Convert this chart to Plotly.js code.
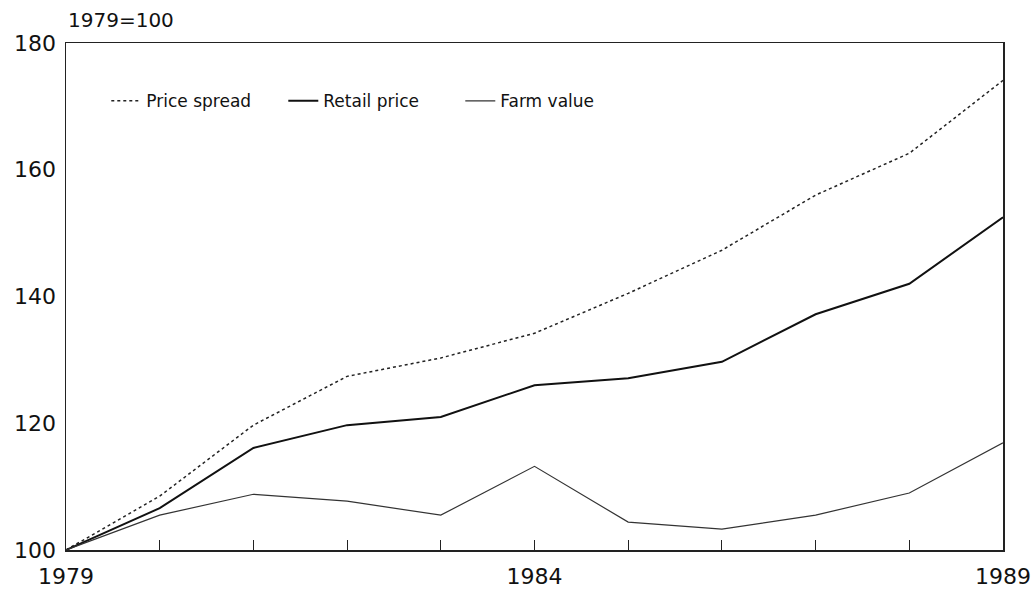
<!DOCTYPE html>
<html>
<head>
<meta charset="utf-8">
<script src="https://cdn.plot.ly/plotly-3.0.1.min.js"></script>
<style>html,body{margin:0;padding:0;background:#fff;}#chart{width:1036px;height:592px;}</style>
</head>
<body>
<div id="chart"></div>
<script>
const years = [1979, 1980, 1981, 1982, 1983, 1984, 1985, 1986, 1987, 1988, 1989];
const priceSpread = [100, 108.5, 119.7, 127.4, 130.3, 134.2, 140.5, 147.3, 156.0, 162.6, 174.1];
const retailPrice = [100, 106.6, 116.1, 119.7, 121.0, 126.0, 127.1, 129.7, 137.2, 142.0, 152.5];
const farmValue = [100, 105.5, 108.8, 107.7, 105.5, 113.2, 104.4, 103.3, 105.5, 109.0, 116.9];
const xTickLabels = ["1979", "", "", "", "", "1984", "", "", "", "", "1989"];
const yTickVals = [100, 120, 140, 160, 180];
const seriesNames = ["Price spread", "Retail price", "Farm value"];

const font = {family: "DejaVu Sans, Arial, sans-serif", color: "#111"};

const traces = [
  {x: years, y: priceSpread, name: seriesNames[0], mode: "lines",
   line: {color: "#222", width: 1.5, dash: "dot"}},
  {x: years, y: retailPrice, name: seriesNames[1], mode: "lines",
   line: {color: "#111", width: 2}},
  {x: years, y: farmValue, name: seriesNames[2], mode: "lines",
   line: {color: "#333", width: 1.2}}
];

const layout = {
  width: 1036, height: 592,
  margin: {l: 66, r: 33, t: 43, b: 42},
  paper_bgcolor: "#fff", plot_bgcolor: "#fff",
  font: Object.assign({size: 22}, font),
  showlegend: true,
  legend: {
    orientation: "h", x: 0.043, y: 0.885, xanchor: "left", yanchor: "middle",
    font: Object.assign({size: 17}, font),
    entrywidth: 132, entrywidthmode: "pixels",
    bgcolor: "rgba(0,0,0,0)"
  },
  xaxis: {
    range: [1979, 1989], tickvals: years, ticktext: xTickLabels,
    ticks: "inside", ticklen: 10, tickwidth: 1, tickcolor: "#222",
    showline: true, linecolor: "#222", linewidth: 1.5, mirror: true,
    showgrid: false, zeroline: false, ticklabelstandoff: 6,
    tickfont: Object.assign({size: 22}, font)
  },
  yaxis: {
    range: [100, 180], tickvals: yTickVals,
    ticks: "", showline: true, linecolor: "#222", linewidth: 1.5, mirror: true,
    showgrid: false, zeroline: false, ticklabelstandoff: 4,
    tickfont: Object.assign({size: 22}, font)
  },
  annotations: [{
    text: "1979=100", xref: "paper", yref: "paper", x: 0, y: 1.045,
    xanchor: "left", yanchor: "middle", showarrow: false,
    font: Object.assign({size: 20}, font)
  }]
};

Plotly.newPlot("chart", traces, layout, {displayModeBar: false, staticPlot: true});
</script>
</body>
</html>
